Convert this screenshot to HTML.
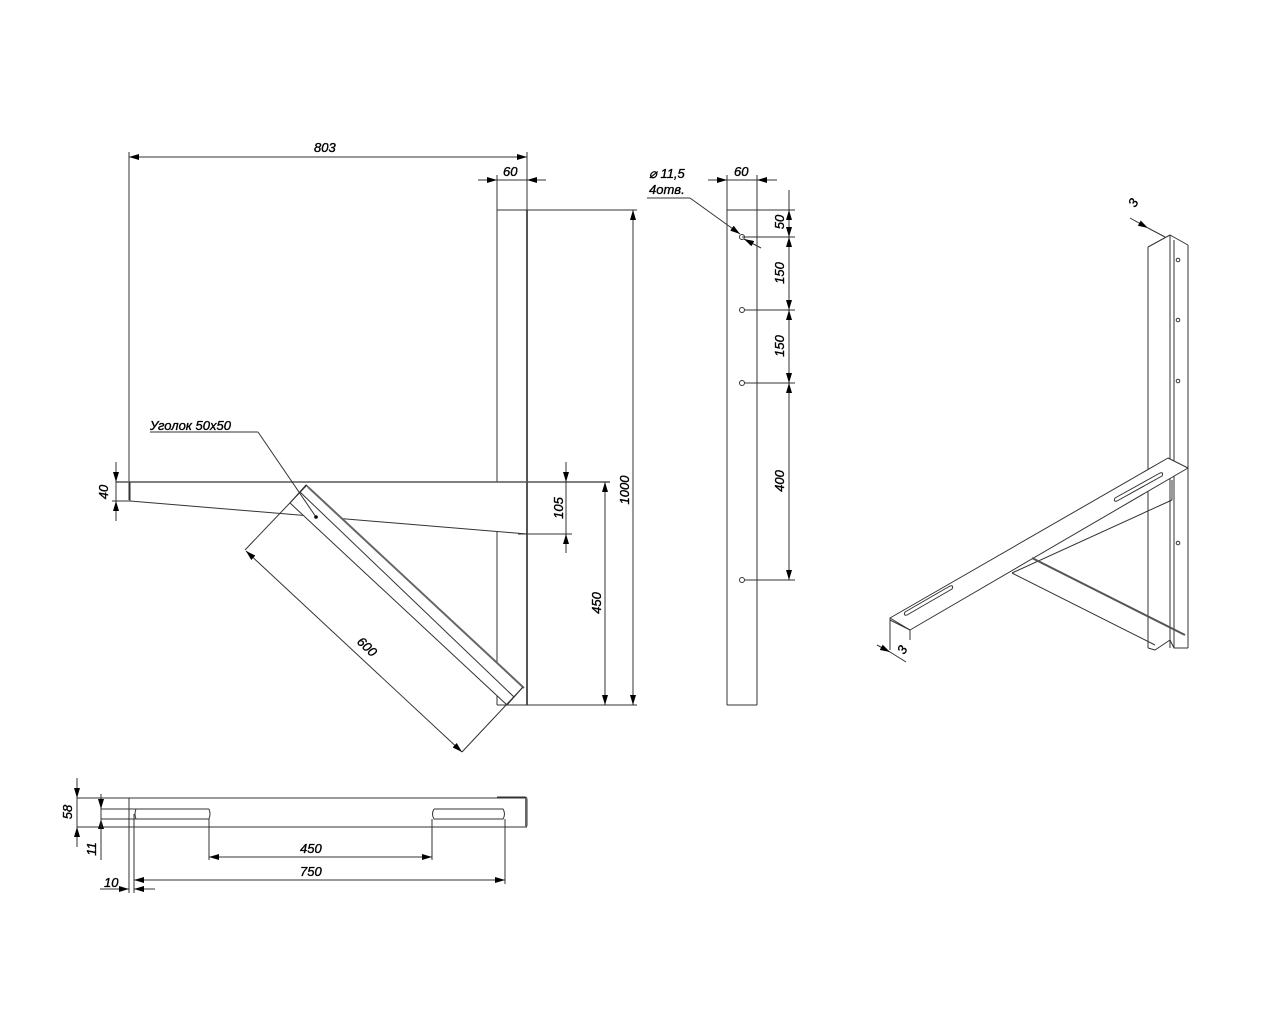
<!DOCTYPE html>
<html><head><meta charset="utf-8"><style>
html,body{margin:0;padding:0;background:#fff;}
svg{display:block}
text{font-family:"Liberation Sans","Noto Sans CJK SC",sans-serif;font-style:italic;font-size:13px;fill:#000;stroke:#000;stroke-width:0.35;}
</style></head><body>
<svg width="1280" height="1024" viewBox="0 0 1280 1024" xmlns="http://www.w3.org/2000/svg">
<defs>
<marker id="a" viewBox="0 0 10 6" refX="10" refY="3" markerWidth="10" markerHeight="6" orient="auto-start-reverse" markerUnits="userSpaceOnUse"><path d="M0,0L10,3L0,6z" fill="#000"/></marker>
</defs>
<g stroke="#333" stroke-width="1" fill="none">
<line x1="129" y1="157" x2="527" y2="157" marker-start="url(#a)" marker-end="url(#a)"/>
<line x1="129" y1="152" x2="129" y2="500"/>
<line x1="527" y1="152" x2="527" y2="210"/>
<line x1="478" y1="180" x2="546" y2="180"/>
<line x1="487" y1="180" x2="497" y2="180" marker-end="url(#a)"/>
<line x1="537" y1="180" x2="527" y2="180" marker-end="url(#a)"/>
<line x1="497" y1="175" x2="497" y2="210"/>
<line x1="497" y1="210" x2="497" y2="482"/>
<line x1="497" y1="532" x2="497" y2="705"/>
<line x1="527" y1="210" x2="527" y2="705" stroke-width="2" stroke="#555"/>
<line x1="497" y1="210" x2="637" y2="210"/>
<line x1="497" y1="705" x2="637" y2="705"/>
<line x1="633" y1="210" x2="633" y2="705" marker-start="url(#a)" marker-end="url(#a)"/>
<line x1="116" y1="482" x2="610" y2="482" stroke-width="1.6" stroke="#555"/>
<line x1="130" y1="501" x2="527" y2="534"/>
<line x1="130" y1="482" x2="130" y2="501"/>
<line x1="112" y1="501" x2="130" y2="501"/>
<line x1="518" y1="534" x2="572" y2="534"/>
<line x1="116" y1="462" x2="116" y2="482" marker-end="url(#a)"/>
<line x1="116" y1="521" x2="116" y2="501" marker-end="url(#a)"/>
<line x1="116" y1="482" x2="116" y2="501"/>
<line x1="566" y1="462" x2="566" y2="482" marker-end="url(#a)"/>
<line x1="566" y1="553" x2="566" y2="534" marker-end="url(#a)"/>
<line x1="566" y1="482" x2="566" y2="534"/>
<line x1="605" y1="482" x2="605" y2="705" marker-start="url(#a)" marker-end="url(#a)"/>
<polygon points="306,485 523,687 507,705 290,503" fill="#fff"/>
<line x1="308" y1="487" x2="524" y2="688" stroke-width="2" stroke="#666"/>
<line x1="300" y1="492" x2="514" y2="697"/>
<line x1="245" y1="550" x2="307" y2="485"/>
<line x1="462" y1="752" x2="523" y2="687"/>
<line x1="246" y1="551" x2="462" y2="752" marker-start="url(#a)" marker-end="url(#a)"/>
<line x1="150" y1="432" x2="258" y2="432"/>
<line x1="258" y1="432" x2="316" y2="517"/>
</g>
<circle cx="316" cy="517" r="1.8" fill="#000"/>
<text x="150" y="430">Уголок 50х50</text>
<text x="314" y="152">803</text>
<text x="503" y="176">60</text>
<text transform="translate(108,492) rotate(-90)" text-anchor="middle">40</text>
<text transform="translate(563,508) rotate(-90)" text-anchor="middle">105</text>
<text transform="translate(601,603) rotate(-90)" text-anchor="middle">450</text>
<text transform="translate(629,490) rotate(-90)" text-anchor="middle">1000</text>
<text transform="translate(364,650) rotate(43)" text-anchor="middle">600</text>

<g stroke="#333" stroke-width="1" fill="none">
<line x1="727" y1="175" x2="727" y2="705"/>
<line x1="757" y1="175" x2="757" y2="705"/>
<line x1="727" y1="705" x2="757" y2="705"/>
<line x1="727" y1="210" x2="795" y2="210"/>
<line x1="708" y1="180" x2="777" y2="180"/>
<line x1="717" y1="180" x2="727" y2="180" marker-end="url(#a)"/>
<line x1="767" y1="180" x2="757" y2="180" marker-end="url(#a)"/>
<line x1="789" y1="190" x2="789" y2="580"/>
<line x1="789" y1="225" x2="789" y2="210" marker-end="url(#a)"/>
<line x1="789" y1="222" x2="789" y2="237" marker-end="url(#a)"/>
<line x1="789" y1="252" x2="789" y2="237" marker-end="url(#a)"/>
<line x1="789" y1="295" x2="789" y2="310" marker-end="url(#a)"/>
<line x1="789" y1="325" x2="789" y2="310" marker-end="url(#a)"/>
<line x1="789" y1="368" x2="789" y2="383" marker-end="url(#a)"/>
<line x1="789" y1="398" x2="789" y2="383" marker-end="url(#a)"/>
<line x1="789" y1="565" x2="789" y2="580" marker-end="url(#a)"/>
<circle cx="742" cy="237" r="2.5"/><circle cx="742" cy="310" r="2.5"/><circle cx="742" cy="383" r="2.5"/><circle cx="742" cy="580" r="2.5"/>
<line x1="742" y1="237" x2="795" y2="237"/>
<line x1="745" y1="310" x2="795" y2="310"/>
<line x1="745" y1="383" x2="795" y2="383"/>
<line x1="745" y1="580" x2="795" y2="580"/>
<line x1="647" y1="198" x2="690" y2="198"/>
<line x1="690" y1="198" x2="740" y2="234" marker-end="url(#a)"/>
<line x1="761" y1="248" x2="744" y2="239" marker-end="url(#a)"/>
</g>
<text x="649" y="178">⌀ 11,5</text>
<text x="649" y="194">4отв.</text>
<text x="734" y="176">60</text>
<text transform="translate(784,222) rotate(-90)" text-anchor="middle">50</text>
<text transform="translate(784,273) rotate(-90)" text-anchor="middle">150</text>
<text transform="translate(784,346) rotate(-90)" text-anchor="middle">150</text>
<text transform="translate(784,481) rotate(-90)" text-anchor="middle">400</text>

<g stroke="#333" stroke-width="1" fill="none">
<line x1="77" y1="798" x2="527" y2="798"/>
<line x1="77" y1="827" x2="527" y2="827"/>
<path d="M497,797 H525 Q527,797 527,800 V825 Q527,827 525,827"/>
<line x1="526" y1="798" x2="526" y2="826" stroke-width="2" stroke="#666"/>
<line x1="101" y1="809" x2="209" y2="809"/>
<line x1="101" y1="819" x2="209" y2="819"/>
<path d="M136,819 Q134,814 136,809 M209,809 Q211,814 209,819"/>
<path d="M434,809 H503 Q506,814 503,819 H434 Q431,814 434,809"/>
<line x1="129" y1="798" x2="129" y2="893"/>
<line x1="134" y1="814" x2="134" y2="893"/>
<line x1="209" y1="819" x2="209" y2="860"/>
<line x1="432" y1="819" x2="432" y2="860"/>
<line x1="505" y1="819" x2="505" y2="884"/>
<line x1="77" y1="778" x2="77" y2="798" marker-end="url(#a)"/>
<line x1="77" y1="847" x2="77" y2="827" marker-end="url(#a)"/>
<line x1="77" y1="798" x2="77" y2="827"/>
<line x1="101" y1="794" x2="101" y2="809" marker-end="url(#a)"/>
<line x1="101" y1="834" x2="101" y2="819" marker-end="url(#a)"/>
<line x1="101" y1="809" x2="101" y2="860"/>
<line x1="209" y1="857" x2="432" y2="857" marker-start="url(#a)" marker-end="url(#a)"/>
<line x1="134" y1="880" x2="505" y2="880" marker-start="url(#a)" marker-end="url(#a)"/>
<line x1="100" y1="889" x2="129" y2="889" marker-end="url(#a)"/>
<line x1="155" y1="889" x2="134" y2="889" marker-end="url(#a)"/>
</g>
<text transform="translate(72,812) rotate(-90)" text-anchor="middle">58</text>
<text transform="translate(96,849) rotate(-90)" text-anchor="middle">11</text>
<text x="300" y="853">450</text>
<text x="300" y="876">750</text>
<text x="104" y="887">10</text>

<g stroke="#333" stroke-width="1" fill="none" stroke-linejoin="round">
<line x1="1148" y1="247" x2="1148" y2="648"/>
<line x1="1170" y1="235" x2="1170" y2="648"/>
<line x1="1174" y1="240" x2="1174" y2="648"/>
<line x1="1188" y1="245" x2="1188" y2="648"/>
<polyline points="1148,247 1170,235 1188,245"/>
<polyline points="1148,648 1155,650 1170,640 1174,648 1188,648"/>
<polygon points="1168,458 1188,468 910,630 890,618" fill="#fff"/>
<line x1="1188" y1="468" x2="1188" y2="482"/>
<line x1="1172" y1="480" x2="1172" y2="500"/>
<line x1="890" y1="618" x2="890" y2="650"/>
<line x1="910" y1="630" x2="910" y2="640"/>
<line x1="890" y1="620" x2="910" y2="630"/>
<line x1="1172" y1="500" x2="1012" y2="573"/>
<line x1="1012" y1="573" x2="1155" y2="645"/>
<line x1="1032" y1="558" x2="1185" y2="635" stroke-width="2" stroke="#555"/>
<path d="M1115,498 L1160,473 Q1164,472 1162,476 L1117,501 Q1113,502 1115,498z"/>
<path d="M905,612 L950,586 Q954,585 952,589 L907,615 Q903,616 905,612z"/>
<circle cx="1178" cy="260" r="1.8"/><circle cx="1178" cy="320" r="1.8"/><circle cx="1178" cy="381" r="1.8"/><circle cx="1178" cy="543" r="1.8"/>
<line x1="1130" y1="218" x2="1148" y2="228" marker-end="url(#a)"/>
<line x1="1148" y1="228" x2="1165" y2="237"/>
<line x1="877" y1="645" x2="890" y2="652" marker-end="url(#a)"/>
<line x1="890" y1="652" x2="906" y2="662"/>
</g>
<text transform="translate(1137,205) rotate(-60)" text-anchor="middle">3</text>
<text transform="translate(906,652) rotate(-60)" text-anchor="middle">3</text>
</svg>
</body></html>
